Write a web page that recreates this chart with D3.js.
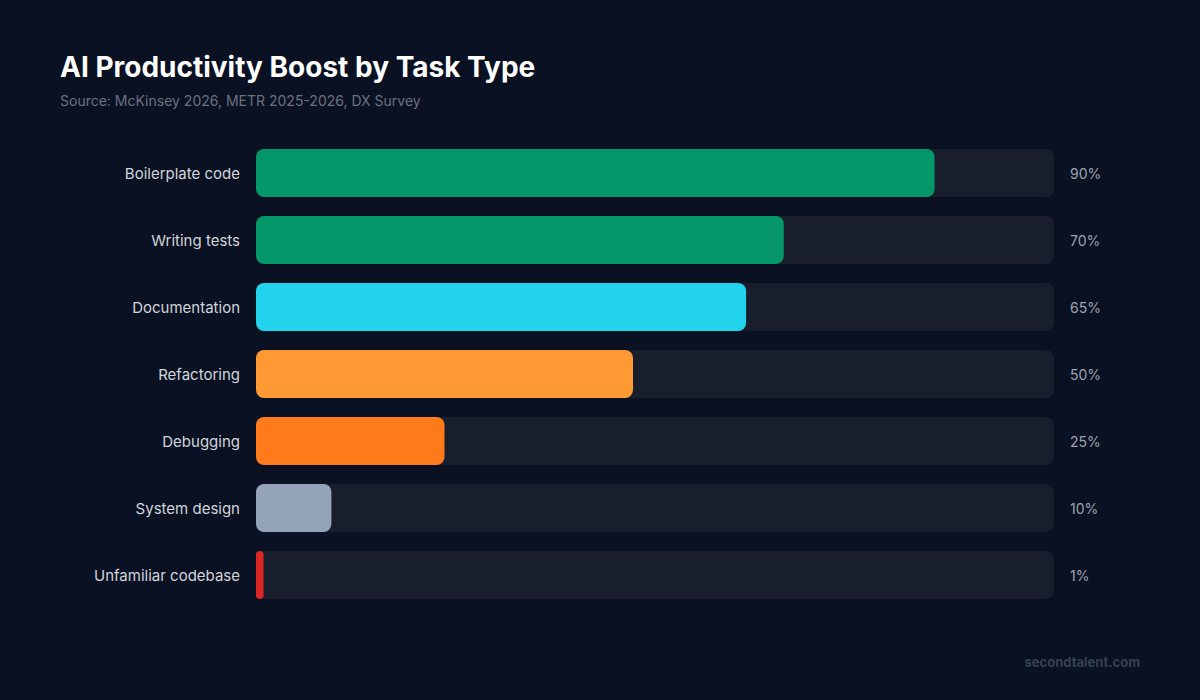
<!DOCTYPE html>
<html>
<head>
<meta charset="utf-8">
<script src="https://cdn.jsdelivr.net/npm/d3@7"></script>
<style>
  html, body { margin: 0; padding: 0; background: #0a1122; }
  svg { display: block; font-family: Inter, "Noto Sans", sans-serif; }
</style>
</head>
<body>
<div id="chart"></div>
<script>
// data
var tasks = ["Boilerplate code", "Writing tests", "Documentation", "Refactoring", "Debugging", "System design", "Unfamiliar codebase"];
var boost = [90, 70, 65, 50, 25, 10, 1];
var barColors = ["#059669", "#059669", "#22d3ee", "#ff9933", "#ff7a1a", "#94a3b8", "#dc2626"];

var width = 1200, height = 700;
var trackLeft = 256, trackRight = 1054;

var svg = d3.select("#chart").append("svg")
  .attr("width", width)
  .attr("height", height);

svg.append("rect")
  .attr("width", width)
  .attr("height", height)
  .attr("fill", "#0a1122");

// title + source
svg.append("text")
  .attr("x", 60).attr("y", 77)
  .attr("fill", "#ffffff")
  .attr("font-size", 28)
  .attr("font-weight", 700)
  .text("AI Productivity Boost by Task Type");

svg.append("text")
  .attr("x", 60).attr("y", 106)
  .attr("fill", "#6b7280")
  .attr("font-size", 14)
  .text("Source: McKinsey 2026, METR 2025-2026, DX Survey");

var rows = tasks.map(function(t, i) {
  return { task: t, value: boost[i], color: barColors[i] };
});

var y = d3.scaleBand()
  .domain(tasks)
  .range([149, 599])
  .paddingInner(19 / 67);

// bars don't fill the whole track at 100
var x = d3.scaleLinear()
  .domain([0, 100])
  .range([0, 754]);

var row = svg.selectAll(".row")
  .data(rows)
  .enter().append("g")
  .attr("class", "row")
  .attr("transform", function(d) { return "translate(0," + y(d.task) + ")"; });

// background track
row.append("rect")
  .attr("x", trackLeft)
  .attr("width", trackRight - trackLeft)
  .attr("height", y.bandwidth())
  .attr("rx", 8)
  .attr("fill", "#181e2b");

row.append("rect")
  .attr("x", trackLeft)
  .attr("width", function(d) { return x(d.value); })
  .attr("height", y.bandwidth())
  .attr("rx", function(d) { return Math.min(8, x(d.value) / 2); })
  .attr("fill", function(d) { return d.color; });

row.append("text")
  .attr("x", 240)
  .attr("y", y.bandwidth() / 2 + 1)
  .attr("dy", "0.35em")
  .attr("text-anchor", "end")
  .attr("fill", "#d1d5db")
  .attr("font-size", 15)
  .text(function(d) { return d.task; });

row.append("text")
  .attr("x", 1070)
  .attr("y", y.bandwidth() / 2 + 1)
  .attr("dy", "0.35em")
  .attr("fill", "#9ca3af")
  .attr("font-size", 14)
  .text(function(d) { return d.value + "%"; });

// footer
svg.append("text")
  .attr("x", 1140).attr("y", 667)
  .attr("text-anchor", "end")
  .attr("fill", "#374151")
  .attr("font-size", 13)
  .attr("font-weight", 700)
  .text("secondtalent.com");
</script>
</body>
</html>
